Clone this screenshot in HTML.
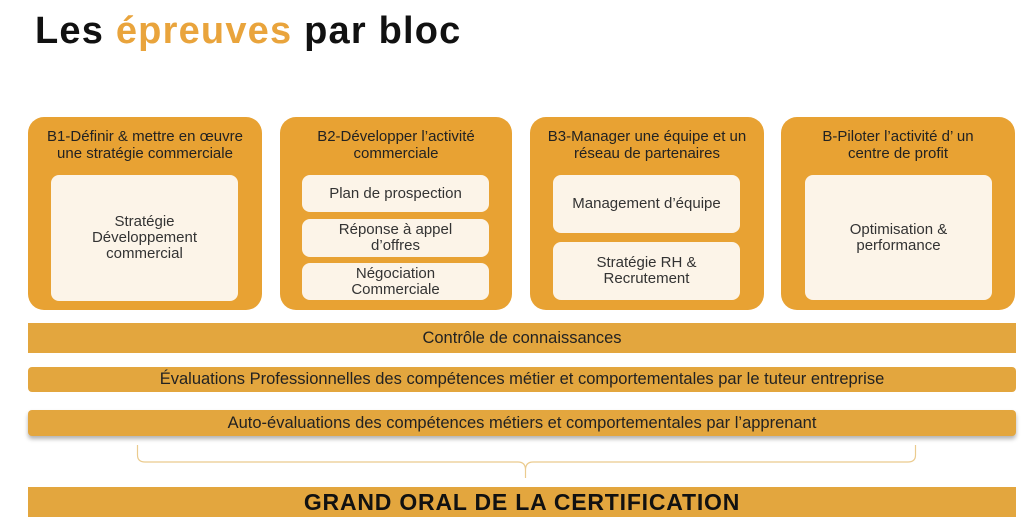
<!DOCTYPE html>
<html><head><meta charset="utf-8"><style>
*{margin:0;padding:0;box-sizing:border-box}
body{width:1024px;height:527px;background:#fff;position:relative;overflow:hidden;font-family:"Liberation Sans",sans-serif;color:#222}
.a{position:absolute}
h1{position:absolute;left:35px;top:10px;font-size:38px;font-weight:bold;color:#111;letter-spacing:1.2px}
h1 span{color:#E9A43C}
.blk{position:absolute;top:117px;height:193px;width:234px;background:#E8A233;border-radius:16px;text-align:center;font-size:15px;line-height:17px;padding-top:11px;color:#222}
.in{position:absolute;background:#FCF4E8;border-radius:8px;display:flex;align-items:center;justify-content:center;text-align:center;font-size:15px;line-height:16px;color:#333}
.bar{position:absolute;left:28px;width:988px;background:#E3A63E;display:flex;align-items:center;justify-content:center;font-size:16.5px;color:#222}
</style></head><body>
<h1>Les <span>épreuves</span> par bloc</h1>
<div class="blk" style="left:28px">B1-Définir &amp; mettre en œuvre<br>une stratégie commerciale</div>
<div class="blk" style="left:280px;width:232px">B2-Développer l’activité<br>commerciale</div>
<div class="blk" style="left:530px">B3-Manager une équipe et un<br>réseau de partenaires</div>
<div class="blk" style="left:781px">B-Piloter l’activité d’ un<br>centre de profit</div>
<div class="in" style="left:51px;top:175px;width:187px;height:126px">Stratégie<br>Développement<br>commercial</div>
<div class="in" style="left:302px;top:175px;width:187px;height:37px">Plan de prospection</div>
<div class="in" style="left:302px;top:219px;width:187px;height:38px">Réponse à appel<br>d’offres</div>
<div class="in" style="left:302px;top:263px;width:187px;height:37px">Négociation<br>Commerciale</div>
<div class="in" style="left:553px;top:175px;width:187px;height:58px">Management d’équipe</div>
<div class="in" style="left:553px;top:242px;width:187px;height:58px">Stratégie RH &amp;<br>Recrutement</div>
<div class="in" style="left:805px;top:175px;width:187px;height:125px">Optimisation &amp;<br>performance</div>
<div class="bar" style="top:323px;height:30px">Contrôle de connaissances</div>
<div class="bar" style="top:367px;height:25px;border-radius:4px">Évaluations Professionnelles des compétences métier et comportementales par le tuteur entreprise</div>
<div class="bar" style="top:410px;height:26px;border-radius:4px;box-shadow:0 3px 4px rgba(0,0,0,0.3)">Auto-évaluations des compétences métiers et comportementales par l’apprenant</div>
<svg class="a" style="left:0;top:0" width="1024" height="527"><path d="M137.5 445 V455 Q137.5 462 145 462 H518 Q525.5 462 525.5 470 V478 M525.5 470 Q525.5 462 533 462 H908 Q915.5 462 915.5 455 V445" fill="none" stroke="#EBCB8E" stroke-width="1.2"/></svg>
<div class="bar" style="top:487px;height:30px;font-size:23px;font-weight:bold;color:#111;letter-spacing:0.8px">GRAND ORAL DE LA CERTIFICATION</div>
</body></html>
